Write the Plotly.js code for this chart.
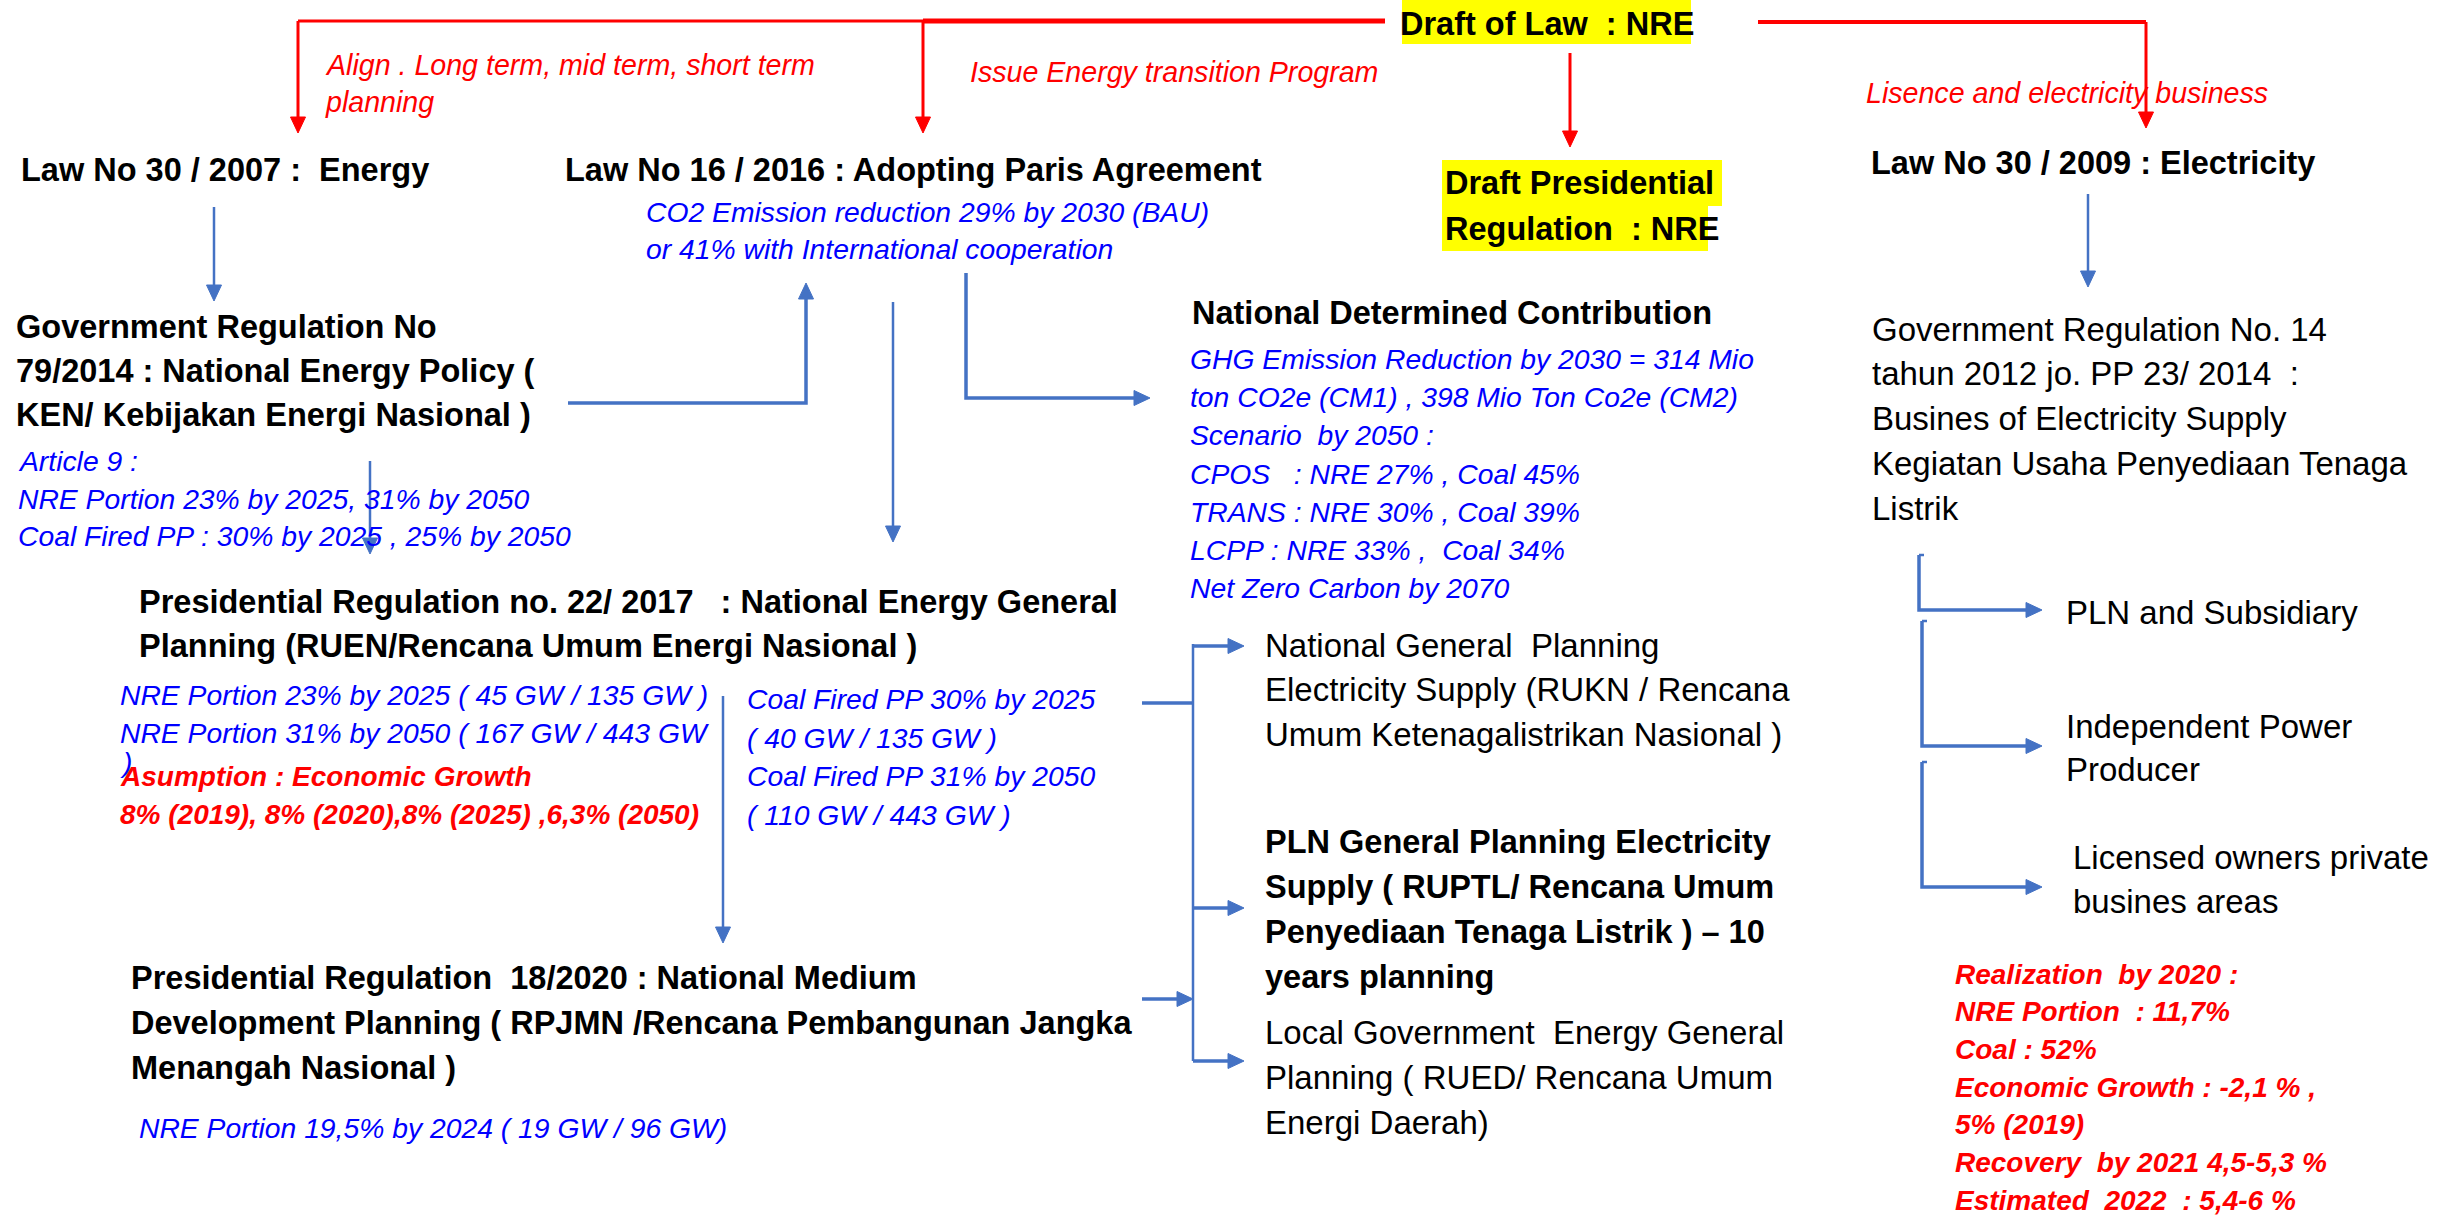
<!DOCTYPE html>
<html><head><meta charset="utf-8">
<script src="https://cdn.plot.ly/plotly-3.0.1.min.js"></script>
<style>html,body{margin:0;padding:0;background:#fff;overflow:hidden}</style>
</head><body><div id="chart" style="width:2443px;height:1218px"></div>
<script>
// ---------------- texts of the diagram ----------------
const draftLaw = ["Draft of Law  : NRE"];
const draftPresidential = ["Draft Presidential ", "Regulation  : NRE"];
const noteAlign = ["Align . Long term, mid term, short term", "planning"];
const noteIssue = ["Issue Energy transition Program"];
const noteLicence = ["Lisence and electricity business"];
const lawEnergy = ["Law No 30 / 2007 :  Energy"];
const lawParis = ["Law No 16 / 2016 : Adopting Paris Agreement"];
const parisTargets = ["CO2 Emission reduction 29% by 2030 (BAU)", "or 41% with International cooperation"];
const lawElectricity = ["Law No 30 / 2009 : Electricity"];
const govReg79 = ["Government Regulation No", "79/2014 : National Energy Policy (", "KEN/ Kebijakan Energi Nasional )"];
const article9 = ["Article 9 :", "NRE Portion 23% by 2025, 31% by 2050", "Coal Fired PP : 30% by 2025 , 25% by 2050"];
const ndcTitle = ["National Determined Contribution"];
const ndcTargets = ["GHG Emission Reduction by 2030 = 314 Mio", "ton CO2e (CM1) , 398 Mio Ton Co2e (CM2)", "Scenario  by 2050 :", "CPOS   : NRE 27% , Coal 45%", "TRANS : NRE 30% , Coal 39%", "LCPP : NRE 33% ,  Coal 34%", "Net Zero Carbon by 2070"];
const govReg14 = ["Government Regulation No. 14", "tahun 2012 jo. PP 23/ 2014  :", "Busines of Electricity Supply", "Kegiatan Usaha Penyediaan Tenaga", "Listrik"];
const businessPln = ["PLN and Subsidiary"];
const businessIpp = ["Independent Power", "Producer"];
const businessPrivate = ["Licensed owners private", "busines areas"];
const ruenTitle = ["Presidential Regulation no. 22/ 2017   : National Energy General", "Planning (RUEN/Rencana Umum Energi Nasional )"];
const ruenNre = ["NRE Portion 23% by 2025 ( 45 GW / 135 GW )", "NRE Portion 31% by 2050 ( 167 GW / 443 GW"];
const ruenNreWrap = [")"];
const ruenGrowth = ["Asumption : Economic Growth", "8% (2019), 8% (2020),8% (2025) ,6,3% (2050)"];
const ruenCoal = ["Coal Fired PP 30% by 2025", "( 40 GW / 135 GW )", "Coal Fired PP 31% by 2050", "( 110 GW / 443 GW )"];
const rukn = ["National General  Planning", "Electricity Supply (RUKN / Rencana", "Umum Ketenagalistrikan Nasional )"];
const ruptl = ["PLN General Planning Electricity", "Supply ( RUPTL/ Rencana Umum", "Penyediaan Tenaga Listrik ) \u2013 10", "years planning"];
const rued = ["Local Government  Energy General", "Planning ( RUED/ Rencana Umum", "Energi Daerah)"];
const rpjmnTitle = ["Presidential Regulation  18/2020 : National Medium", "Development Planning ( RPJMN /Rencana Pembangunan Jangka", "Menangah Nasional )"];
const rpjmnNre = ["NRE Portion 19,5% by 2024 ( 19 GW / 96 GW)"];
const realization = ["Realization  by 2020 :", "NRE Portion  : 11,7%", "Coal : 52%", "Economic Growth : -2,1 % ,", "5% (2019)", "Recovery  by 2021 4,5-5,3 %", "Estimated  2022  : 5,4-6 %"];

// ---------------- styles ----------------
const FONT = "Liberation Sans, Arial, sans-serif";
const RED = "#FF0000", TXTBLUE = "#0000FF", LINEBLUE = "#4472C4", YELLOW = "#FFFF00";
const S = {
  head:   {size: 32.5, color: "#000", b: true,  i: false},
  plain:  {size: 33, color: "#000", b: false, i: false},
  blue:   {size: 28.3, color: TXTBLUE, b: false, i: true},
  note:   {size: 28.6, color: RED, b: false, i: true},
  redB:   {size: 28, color: RED, b: true, i: true}
};

const annotations = [];
const shapes = [];

function fmt(t, st) {
  let s = t.replace(/  /g, " \u00a0");
  if (st.i) s = "<i>" + s + "</i>";
  if (st.b) s = "<b>" + s + "</b>";
  return s;
}
function block(lines, x, y0, dy, st, anchor) {
  lines.forEach((t, k) => annotations.push({
    x: x, y: y0 + k * dy, xref: "x", yref: "y", text: fmt(t, st), showarrow: false,
    xanchor: anchor || "left", yanchor: "middle", align: "left", borderpad: 0,
    font: {family: FONT, size: st.size, color: st.color}
  }));
}
function seg(pts, color, w) {
  let d = "M" + pts.map(p => p[0] + "," + p[1]).join("L");
  shapes.push({type: "path", path: d, xref: "x", yref: "y", line: {color: color, width: w}});
}
function head(x, y, dir, color, len, half) {
  len = len || 16; half = half || 7.5;
  let p;
  if (dir === "down") p = [[x - half, y - len], [x + half, y - len], [x, y]];
  if (dir === "up") p = [[x - half, y + len], [x + half, y + len], [x, y]];
  if (dir === "right") p = [[x - len, y - half], [x - len, y + half], [x, y]];
  let d = "M" + p.map(q => q[0] + "," + q[1]).join("L") + "Z";
  shapes.push({type: "path", path: d, xref: "x", yref: "y", fillcolor: color, line: {color: color, width: 1}});
}
function arrow(pts, color, w) {
  const n = pts.length, a = pts[n - 2], b = pts[n - 1];
  let dir = b[0] > a[0] ? "right" : (b[1] > a[1] ? "down" : "up");
  const back = pts.map(p => p.slice());
  const e = back[n - 1];
  if (dir === "down") e[1] -= 10; if (dir === "up") e[1] += 10; if (dir === "right") e[0] -= 10;
  seg(back, color, w);
  head(b[0], b[1], dir, color);
}
function box(x0, y0, x1, y1, color) {
  shapes.push({type: "rect", x0: x0, y0: y0, x1: x1, y1: y1, xref: "x", yref: "y", fillcolor: color, line: {width: 0}, layer: "below"});
}

// ---------------- highlighted boxes ----------------
box(1402, 0, 1691, 44, YELLOW);
box(1442, 160, 1722, 206, YELLOW);
box(1442, 206, 1708, 251, YELLOW);

// ---------------- red connectors ----------------
seg([[298, 21], [923, 21]], RED, 3);
seg([[923, 21], [1385, 21]], RED, 5);
arrow([[298, 21], [298, 133]], RED, 3);
arrow([[923, 21], [923, 133]], RED, 3);
arrow([[1570, 53], [1570, 147]], RED, 3);
seg([[1758, 22], [2146, 22]], RED, 4);
arrow([[2146, 22], [2146, 128]], RED, 3);

// ---------------- blue connectors ----------------
arrow([[214, 207], [214, 301]], LINEBLUE, 2.5);
arrow([[568, 403], [806, 403], [806, 283]], LINEBLUE, 3.5);
arrow([[370, 461], [370, 554]], LINEBLUE, 2.5);
arrow([[893, 302], [893, 542]], LINEBLUE, 2.5);
arrow([[966, 273], [966, 398], [1150, 398]], LINEBLUE, 3.5);
arrow([[2088, 194], [2088, 287]], LINEBLUE, 2.5);
seg([[1924, 555], [1919, 555]], LINEBLUE, 2.5);
arrow([[1919, 555], [1919, 610], [2042, 610]], LINEBLUE, 3.5);
seg([[1927, 621], [1922, 621]], LINEBLUE, 2.5);
arrow([[1922, 621], [1922, 746], [2042, 746]], LINEBLUE, 3.5);
seg([[1927, 762], [1922, 762]], LINEBLUE, 2.5);
arrow([[1922, 762], [1922, 887], [2042, 887]], LINEBLUE, 3.5);
seg([[1142, 703], [1193, 703]], LINEBLUE, 3.5);
seg([[1193, 644], [1193, 1061]], LINEBLUE, 2.5);
arrow([[1193, 646], [1244, 646]], LINEBLUE, 3.5);
arrow([[1193, 908], [1244, 908]], LINEBLUE, 3.5);
arrow([[1193, 1061], [1244, 1061]], LINEBLUE, 3.5);
arrow([[1142, 999], [1193, 999]], LINEBLUE, 3.5);
arrow([[723, 696], [723, 943]], LINEBLUE, 2.5);

// ---------------- texts placement ----------------
block(draftLaw, 1547, 24, 0, S.head, "center");
block(draftPresidential, 1444, 183, 46, S.head);
block(noteAlign, 324, 65, 37, S.note);
block(noteIssue, 969, 72, 0, S.note);
block(noteLicence, 1865, 93, 0, S.note);
block(lawEnergy, 20, 170, 0, S.head);
block(lawParis, 564, 170, 0, S.head);
block(parisTargets, 645, 212, 37, S.blue);
block(lawElectricity, 1870, 163, 0, S.head);
block(govReg79, 15, 327, 44, S.head);
block(article9, 17, 461, 37.5, S.blue);
block(ndcTitle, 1191, 313, 0, S.head);
block(ndcTargets, 1189, 359, 38.2, S.blue);
block(govReg14, 1871, 329, 44.8, S.plain);
block(businessPln, 2065, 612, 0, S.plain);
block(businessIpp, 2065, 726, 43, S.plain);
block(businessPrivate, 2072, 857, 44, S.plain);
block(ruenTitle, 138, 602, 44, S.head);
block(ruenNre, 119, 695, 38, S.blue);
block(ruenNreWrap, 119, 762, 0, S.blue);
block(ruenGrowth, 119, 776, 38.5, S.redB);
block(ruenCoal, 746, 699, 38.7, S.blue);
block(rukn, 1264, 645, 44.5, S.plain);
block(ruptl, 1264, 842, 45, S.head);
block(rued, 1264, 1032, 45, S.plain);
block(rpjmnTitle, 130, 978, 45, S.head);
block(rpjmnNre, 138, 1128, 0, S.blue);
block(realization, 1954, 974, 37.7, S.redB);

const layout = {
  width: 2443, height: 1218, margin: {l: 0, r: 0, t: 0, b: 0},
  paper_bgcolor: "#fff", plot_bgcolor: "#fff", showlegend: false,
  xaxis: {range: [0, 2443], visible: false, fixedrange: true},
  yaxis: {range: [1218, 0], visible: false, fixedrange: true},
  annotations: annotations, shapes: shapes
};
Plotly.newPlot("chart", [{x: [], y: [], type: "scatter", hoverinfo: "skip"}], layout, {staticPlot: true, displayModeBar: false});
</script></body></html>
